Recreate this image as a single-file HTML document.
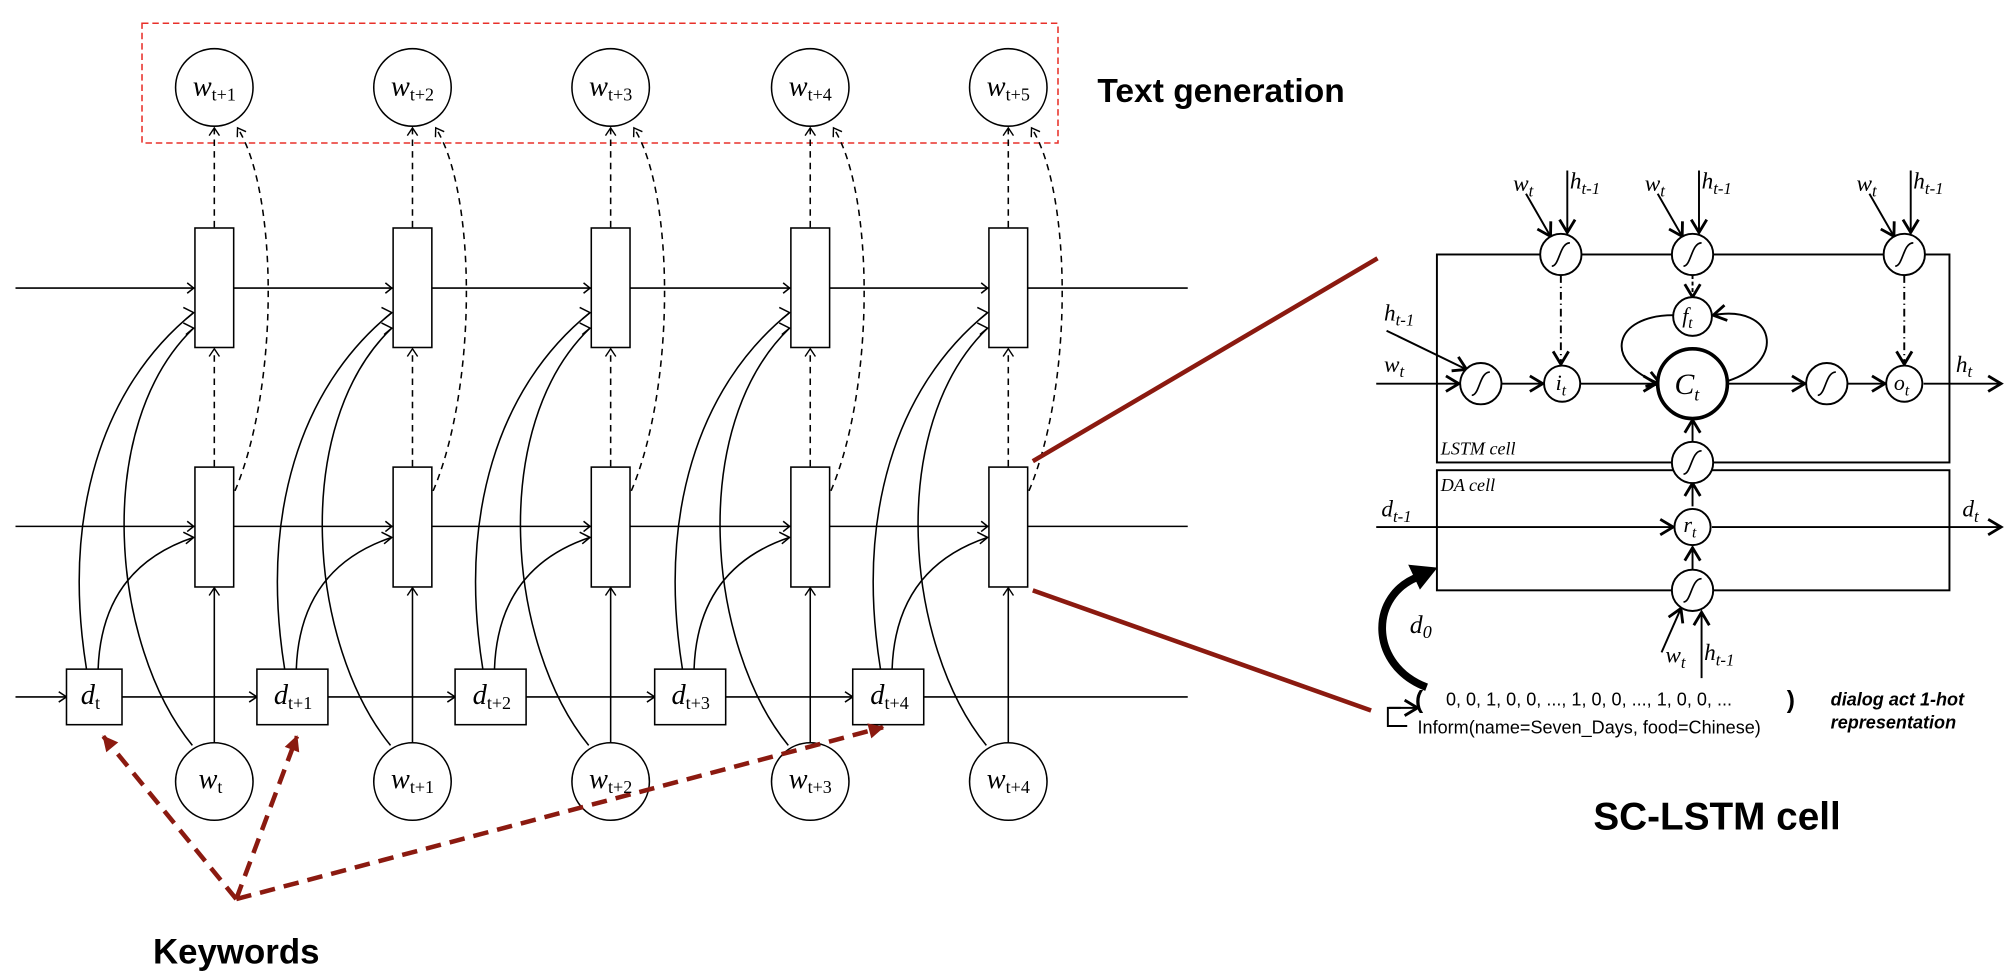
<!DOCTYPE html>
<html><head><meta charset="utf-8"><style>
html,body{margin:0;padding:0;background:#fff;}
svg{display:block;}
.m{font-family:"Liberation Serif",serif;font-style:italic;}
</style></head><body>
<svg id="s" width="2014" height="974" viewBox="0 0 1560 754" preserveAspectRatio="none" xmlns="http://www.w3.org/2000/svg">
<defs>
<marker id="a" markerWidth="10" markerHeight="10" refX="8" refY="5" orient="auto" markerUnits="userSpaceOnUse"><path d="M2,1 L8,5 L2,9" fill="none" stroke="#000" stroke-width="1.1"/></marker>
<marker id="b" markerWidth="16" markerHeight="16" refX="13" refY="8" orient="auto" markerUnits="userSpaceOnUse"><path d="M3,2 L13,8 L3,14" fill="none" stroke="#000" stroke-width="2.2"/></marker>
<marker id="r" markerWidth="16" markerHeight="16" refX="12" refY="8" orient="auto" markerUnits="userSpaceOnUse"><path d="M1,2 L13,8 L1,14 Z" fill="#8b1a10"/></marker>
</defs>
<rect x="110" y="18" width="709.5" height="92.7" fill="none" stroke="#e8302a" stroke-width="1.2" stroke-dasharray="5,3"/>
<g id="g" fill="none" stroke="#000" stroke-width="1.2"></g>
<g class="m" font-size="22" text-anchor="middle">
<text x="166" y="74">w<tspan font-size="14" font-style="normal" dy="4">t+1</tspan></text>
<text x="319.5" y="74">w<tspan font-size="14" font-style="normal" dy="4">t+2</tspan></text>
<text x="473" y="74">w<tspan font-size="14" font-style="normal" dy="4">t+3</tspan></text>
<text x="627.6" y="74">w<tspan font-size="14" font-style="normal" dy="4">t+4</tspan></text>
<text x="781" y="74">w<tspan font-size="14" font-style="normal" dy="4">t+5</tspan></text>
<text x="163" y="610">w<tspan font-size="14" font-style="normal" dy="4">t</tspan></text>
<text x="319.5" y="610">w<tspan font-size="14" font-style="normal" dy="4">t+1</tspan></text>
<text x="473" y="610">w<tspan font-size="14" font-style="normal" dy="4">t+2</tspan></text>
<text x="627.6" y="610">w<tspan font-size="14" font-style="normal" dy="4">t+3</tspan></text>
<text x="781" y="610">w<tspan font-size="14" font-style="normal" dy="4">t+4</tspan></text>
<text x="70" y="545">d<tspan font-size="14" font-style="normal" dy="4">t</tspan></text>
<text x="227" y="545">d<tspan font-size="14" font-style="normal" dy="4">t+1</tspan></text>
<text x="381" y="545">d<tspan font-size="14" font-style="normal" dy="4">t+2</tspan></text>
<text x="535" y="545">d<tspan font-size="14" font-style="normal" dy="4">t+3</tspan></text>
<text x="689" y="545">d<tspan font-size="14" font-style="normal" dy="4">t+4</tspan></text>
</g>
<g fill="none" stroke="#8b1a10" stroke-width="3.5">
<path d="M183,696 L80,570" stroke-dasharray="12,7" marker-end="url(#r)"/>
<path d="M183,696 L230,570" stroke-dasharray="12,7" marker-end="url(#r)"/>
<path d="M183,696 L684,563" stroke-dasharray="12,7" marker-end="url(#r)"/>
<path d="M800,357 L1067,200"/>
<path d="M800,457 L1062,550"/>
</g>
<text x="183" y="746" font-family="Liberation Sans,sans-serif" font-weight="bold" font-size="27" text-anchor="middle">Keywords</text>
<text x="850" y="79" font-family="Liberation Sans,sans-serif" font-weight="bold" font-size="26">Text generation</text>
<text x="1330" y="642" font-family="Liberation Sans,sans-serif" font-weight="bold" font-size="30" text-anchor="middle">SC-LSTM cell</text>
<g id="rg" fill="none" stroke="#000" stroke-width="1.5"></g>
<g class="m" font-size="18">
<text x="1172" y="148">w<tspan font-size="13" dy="4">t</tspan></text>
<text x="1216" y="146">h<tspan font-size="13" dy="4">t-1</tspan></text>
<text x="1274" y="148">w<tspan font-size="13" dy="4">t</tspan></text>
<text x="1318" y="146">h<tspan font-size="13" dy="4">t-1</tspan></text>
<text x="1438" y="148">w<tspan font-size="13" dy="4">t</tspan></text>
<text x="1482" y="146">h<tspan font-size="13" dy="4">t-1</tspan></text>
<text x="1072" y="248">h<tspan font-size="13" dy="4">t-1</tspan></text>
<text x="1072" y="288">w<tspan font-size="13" dy="4">t</tspan></text>
<text x="1515" y="288">h<tspan font-size="13" dy="4">t</tspan></text>
<text x="1070" y="400">d<tspan font-size="13" dy="4">t-1</tspan></text>
<text x="1520" y="400">d<tspan font-size="13" dy="4">t</tspan></text>
<text x="1290" y="513">w<tspan font-size="13" dy="4">t</tspan></text>
<text x="1320" y="511">h<tspan font-size="13" dy="4">t-1</tspan></text>
<text x="1092" y="490" font-size="20">d<tspan font-size="14" dy="4">0</tspan></text>
<text x="1116" y="352" font-size="14">LSTM cell</text>
<text x="1116" y="380" font-size="14">DA cell</text>
<text x="1303" y="250" font-size="17">f<tspan font-size="12" dy="4">t</tspan></text>
<text x="1205" y="302" font-size="17">i<tspan font-size="12" dy="4">t</tspan></text>
<text x="1297" y="305" font-size="23">C<tspan font-size="14" dy="5">t</tspan></text>
<text x="1467" y="302" font-size="17">o<tspan font-size="12" dy="4">t</tspan></text>
<text x="1304" y="412" font-size="17">r<tspan font-size="12" dy="4">t</tspan></text>
</g>
<g font-family="Liberation Sans,sans-serif" font-size="14">
<text x="1096" y="548" font-size="19" font-weight="bold">(</text>
<text x="1120" y="546">0, 0, 1, 0, 0, ..., 1, 0, 0, ..., 1, 0, 0, ...</text>
<text x="1384" y="548" font-size="19" font-weight="bold">)</text>
<text x="1098" y="568">Inform(name=Seven_Days, food=Chinese)</text>
<text x="1418" y="546" font-weight="bold" font-style="italic">dialog act 1-hot</text>
<text x="1418" y="564" font-weight="bold" font-style="italic">representation</text>
</g>
<script>
var g=document.getElementById('g'),NS='http://www.w3.org/2000/svg';
function el(p,t,a){var e=document.createElementNS(NS,t);for(var k in a)e.setAttribute(k,a[k]);p.appendChild(e);return e;}
var C=[166,319.5,473,627.6,781];
[223,407.5].forEach(function(y){el(g,'line',{x1:12,y1:y,x2:920,y2:y});});
el(g,'line',{x1:12,y1:539.5,x2:920,y2:539.5});
C.forEach(function(c,i){
 var dc=c-93,dw=i==0?43:55;
 el(g,'path',{d:'M'+(dc-6)+',518 C'+(dc-25)+',400 '+(dc+5)+',300 '+(c-16)+',242'});
 el(g,'path',{d:'M'+(dc+3)+',518 C'+(dc+5)+',460 '+(dc+35)+',430 '+(c-16)+',416'});
 el(g,'path',{d:'M'+(c-17)+',577 C'+(c-80)+',500 '+(c-95)+',330 '+(c-16)+',254'});
 el(g,'path',{d:'M'+(c+16)+',380 C'+(c+50)+',300 '+(c+50)+',150 '+(c+18)+',99','stroke-dasharray':'5,4','marker-end':'url(#a)'});
 [242,254,416].forEach(function(y){el(g,'path',{d:'M'+(c-24)+','+(y-4)+' L'+(c-16)+','+y+' L'+(c-22)+','+(y+5)});});
 [223,407.5].forEach(function(y){el(g,'path',{d:'M'+(c-21)+','+(y-4)+' L'+(c-16)+','+y+' L'+(c-21)+','+(y+4)});});
 el(g,'path',{d:'M'+(dc-dw/2-6)+',535.5 L'+(dc-dw/2)+',539.5 L'+(dc-dw/2-6)+',543.5'});
 el(g,'line',{x1:c,y1:575,x2:c,y2:455,'marker-end':'url(#a)'});
 el(g,'line',{x1:c,y1:361,x2:c,y2:270,'stroke-dasharray':'5,4','marker-end':'url(#a)'});
 el(g,'line',{x1:c,y1:176,x2:c,y2:99,'stroke-dasharray':'5,4','marker-end':'url(#a)'});
 el(g,'rect',{x:c-15,y:176.5,width:30,height:92.5,fill:'#fff'});
 el(g,'rect',{x:c-15,y:361.6,width:30,height:92.8,fill:'#fff'});
 el(g,'rect',{x:dc-dw/2,y:518,width:dw,height:43,fill:'#fff'});
 el(g,'circle',{cx:c,cy:67.7,r:30,fill:'#fff'});
 el(g,'circle',{cx:c,cy:605,r:30,fill:'#fff'});
});
var r=document.getElementById('rg');
function sig(x,y){el(r,'circle',{cx:x,cy:y,r:16,fill:'#fff'});el(r,'path',{d:'M'+(x-7)+','+(y+9)+' C'+(x-1)+','+(y+9)+' '+(x-1)+','+(y-9)+' '+(x+7)+','+(y-9),'stroke-width':1.3});}
el(r,'rect',{x:1113,y:197,width:397,height:161});
el(r,'rect',{x:1113,y:364,width:397,height:93});
[[1209],[1311],[1475]].forEach(function(p){var x=p[0];
 el(r,'line',{x1:x+5,y1:132,x2:x+5,y2:180,'marker-end':'url(#b)'});
 el(r,'line',{x1:x-27,y1:150,x2:x-8,y2:183,'marker-end':'url(#b)'});});
el(r,'line',{x1:1209,y1:213,x2:1209,y2:282,'stroke-dasharray':'6,3,1,3','marker-end':'url(#b)'});
el(r,'line',{x1:1475,y1:213,x2:1475,y2:282,'stroke-dasharray':'6,3,1,3','marker-end':'url(#b)'});
el(r,'line',{x1:1311,y1:213,x2:1311,y2:230,'stroke-dasharray':'3,2','marker-end':'url(#b)'});
el(r,'line',{x1:1066,y1:297,x2:1130,y2:297,'marker-end':'url(#b)'});
el(r,'line',{x1:1074,y1:256,x2:1136,y2:286,'marker-end':'url(#b)'});
el(r,'line',{x1:1163,y1:297,x2:1195,y2:297,'marker-end':'url(#b)'});
el(r,'line',{x1:1224,y1:297,x2:1283,y2:297,'marker-end':'url(#b)'});
el(r,'line',{x1:1338,y1:297,x2:1398,y2:297,'marker-end':'url(#b)'});
el(r,'line',{x1:1431,y1:297,x2:1460,y2:297,'marker-end':'url(#b)'});
el(r,'line',{x1:1490,y1:297,x2:1550,y2:297,'marker-end':'url(#b)'});
el(r,'path',{d:'M1296,244 C1250,244 1240,280 1286,297','marker-end':'url(#b)'});
el(r,'path',{d:'M1338,295 C1385,280 1375,235 1327,244','marker-end':'url(#b)'});
el(r,'line',{x1:1311,y1:342,x2:1311,y2:325,'marker-end':'url(#b)'});
el(r,'line',{x1:1311,y1:392,x2:1311,y2:374,'marker-end':'url(#b)'});
el(r,'line',{x1:1311,y1:441,x2:1311,y2:424,'marker-end':'url(#b)'});
el(r,'line',{x1:1066,y1:408,x2:1296,y2:408,'marker-end':'url(#b)'});
el(r,'line',{x1:1326,y1:408,x2:1550,y2:408,'marker-end':'url(#b)'});
el(r,'line',{x1:1318,y1:525,x2:1318,y2:474,'marker-end':'url(#b)'});
el(r,'line',{x1:1287,y1:505,x2:1302,y2:471,'marker-end':'url(#b)'});
el(r,'line',{x1:1076,y1:548,x2:1098,y2:548,'marker-end':'url(#b)'});
el(r,'path',{d:'M1085,548 L1075,548 L1075,562 L1090,562'});
el(r,'path',{d:'M1105,532 C1060,515 1060,460 1100,446','stroke-width':6});
el(r,'path',{d:'M1092,438 L1112,440 L1100,455 Z',fill:'#000'});
sig(1209,197);sig(1311,197);sig(1475,197);sig(1147,297);sig(1415,297);sig(1311,358);sig(1311,457);
el(r,'circle',{cx:1311,cy:245,r:15,fill:'#fff'});
el(r,'circle',{cx:1210,cy:297,r:14,fill:'#fff'});
el(r,'circle',{cx:1475,cy:297,r:14,fill:'#fff'});
el(r,'circle',{cx:1311,cy:408,r:14,fill:'#fff'});
el(r,'circle',{cx:1311,cy:297,r:27,fill:'#fff','stroke-width':2.8});
var s=document.getElementById('s');var ts=s.querySelectorAll(':scope > g.m');ts.forEach(function(t){s.appendChild(t);});
</script>
</svg>
</body></html>
